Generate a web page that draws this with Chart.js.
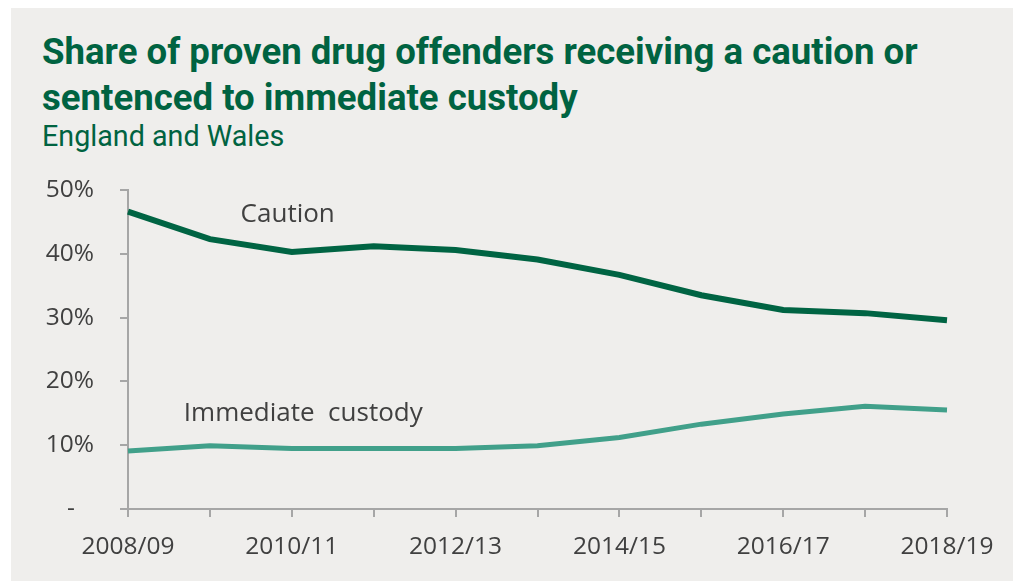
<!DOCTYPE html>
<html>
<head>
<meta charset="utf-8">
<script src="https://cdn.jsdelivr.net/npm/chart.js@4/dist/chart.umd.min.js"></script>
<style>
  html, body { margin: 0; padding: 0; background: #ffffff; }
  #panel { position: absolute; left: 11px; top: 8px; width: 1002px; height: 573px; background: #efeeec; }
  #titulo { position: absolute; left: 31px; top: 21px; margin: 0; font-family: Roboto, sans-serif; font-weight: 700; font-size: 36.6px; line-height: 46px; color: #006341; white-space: nowrap; }
  #subtitulo { position: absolute; left: 31px; top: 111px; margin: 0; font-family: Roboto, sans-serif; font-weight: 400; font-size: 28.7px; color: #006341; }
  #lienzo { position: absolute; left: 0; top: 152px; }
</style>
</head>
<body>
<div id="panel">
  <h1 id="titulo">Share of proven drug offenders receiving a caution or<br>sentenced to immediate custody</h1>
  <div id="subtitulo">England and Wales</div>
  <canvas id="lienzo" width="1002" height="421"></canvas>
</div>
<script>
// años fiscales
var anios = ["2008/09","2009/10","2010/11","2011/12","2012/13","2013/14","2014/15","2015/16","2016/17","2017/18","2018/19"];
// porcentaje de condenados (%)
var amonestacion = [46.6, 42.3, 40.3, 41.2, 40.6, 39.1, 36.7, 33.5, 31.2, 30.7, 29.6];
var custodia = [9.1, 9.9, 9.5, 9.5, 9.5, 9.9, 11.2, 13.3, 14.9, 16.1, 15.5];
var marcasY = [0, 10, 20, 30, 40, 50];

var gris = "#a6a6a6";
var texto = "#404040";

// etiquetas de las series dentro del grafico
var etiquetas = [
  { txt: "Caution", x: 1.95, y: 46.1 },
  { txt: "Immediate  custody", x: 2.14, y: 15.0 }
];

var pintarEtiquetas = {
  id: "pintarEtiquetas",
  afterDatasetsDraw(chart) {
    const ctx = chart.ctx;
    ctx.save();
    ctx.font = "26px 'Open Sans'";
    ctx.fillStyle = texto;
    ctx.textAlign = "center";
    ctx.textBaseline = "middle";
    etiquetas.forEach(e => {
      ctx.fillText(e.txt, chart.scales.x.getPixelForValue(e.x), chart.scales.y.getPixelForValue(e.y));
    });
    ctx.restore();
  }
};

var ctx = document.getElementById("lienzo").getContext("2d");
var chart = new Chart(ctx, {
  type: "line",
  plugins: [pintarEtiquetas],
  data: {
    labels: anios,
    datasets: [
      { label: "Caution", data: amonestacion, borderColor: "#006443", borderWidth: 6, pointRadius: 0, tension: 0, fill: false },
      { label: "Immediate custody", data: custodia, borderColor: "#41a08a", borderWidth: 5, pointRadius: 0, tension: 0, fill: false }
    ]
  },
  options: {
    responsive: false,
    animation: false,
    layout: { autoPadding: false, padding: { top: 30, right: 66, left: 0, bottom: 0 } },
    plugins: { legend: { display: false }, tooltip: { enabled: false } },
    scales: {
      x: {
        offset: false,
        afterFit(axis) { axis.height = 72; },
        border: { color: gris, width: 2 },
        grid: { drawOnChartArea: false, drawTicks: true, tickLength: 8, color: gris, lineWidth: 2 },
        ticks: {
          autoSkip: false, maxRotation: 0, padding: 15, color: texto,
          font: { family: "'Open Sans'", size: 24.5 },
          callback: function (v, i) { return i % 2 == 0 ? anios[i] : ""; }
        }
      },
      y: {
        min: 0, max: 50,
        // ancho fijo y sin el relleno extra que mete el padding de los ticks
        afterFit(axis) { axis.width = 117; axis.paddingTop = 0; axis.paddingBottom = 0; },
        afterBuildTicks(axis) { axis.ticks = marcasY.map(v => ({ value: v })); },
        border: { color: gris, width: 2 },
        grid: { drawOnChartArea: false, drawTicks: true, tickLength: 8, color: gris, lineWidth: 2 },
        ticks: {
          padding: 26, color: texto,
          font: { family: "'Open Sans'", size: 24.5 },
          callback: function (v) { return v == 0 ? "-   " : v + "%"; }
        }
      }
    }
  }
});
</script>
</body>
</html>
